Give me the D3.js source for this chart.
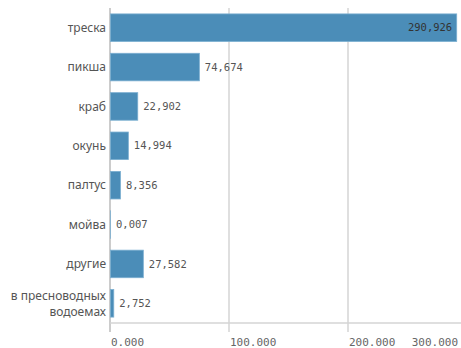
<!DOCTYPE html>
<html><head><meta charset="utf-8">
<script src="https://cdn.jsdelivr.net/npm/d3@7"></script>
<style>body{margin:0;background:#fff}svg{display:block}</style>
</head><body>
<script>
const categories = ["треска","пикша","краб","окунь","палтус","мойва","другие","в пресноводных водоемах"];
const values = [290.926, 74.674, 22.902, 14.994, 8.356, 0.007, 27.582, 2.752];
const ticks = [0, 100, 200, 300];

const W = 461, H = 348;
const svg = d3.select("body").append("svg").attr("width", W).attr("height", H);
const x = d3.scaleLinear().domain([0, 300]).range([110, 467]);
const y = d3.scaleBand().domain(categories).range([8, 323]).paddingInner(0.3).paddingOuter(0.15);

// grid
const grid = svg.append("g");
grid.selectAll("line").data(ticks).join("line")
  .attr("x1", d => x(d)).attr("x2", d => x(d))
  .attr("y1", 8).attr("y2", 332)
  .attr("stroke", d => d === 0 ? "#bbb" : "#d4d4d4").attr("stroke-width", 1.5);
svg.append("line").attr("x1", 110).attr("x2", W).attr("y1", 323).attr("y2", 323)
  .attr("stroke", "#d4d4d4").attr("stroke-width", 1.5);

// tick labels
svg.append("g").selectAll("text").data(ticks).join("text")
  .attr("x", d => Math.min(x(d) + 1, W - 3))
  .attr("y", 346)
  .attr("text-anchor", d => x(d) + 50 > W ? "end" : "start")
  .attr("font-family", "DejaVu Sans Mono, monospace").attr("font-size", 11)
  .attr("fill", "#666")
  .text(d => d3.format(".3f")(d));

// bars
svg.append("g").selectAll("rect").data(values).join("rect")
  .attr("x", x(0) + 0.5).attr("y", (d, i) => y(categories[i]))
  .attr("width", d => Math.max(0, x(d) - x(0)))
  .attr("height", y.bandwidth())
  .attr("fill", "#4b8db8").attr("stroke", "#7aaed0").attr("stroke-width", 0.8);

// value labels
const fmt = d => d3.format(".3f")(d).replace(".", ",");
svg.append("g").selectAll("text").data(values).join("text")
  .attr("x", d => x(d) > 400 ? x(d) - 4 : x(d) + 6)
  .attr("y", (d, i) => y(categories[i]) + y.bandwidth() / 2)
  .attr("dy", "0.35em")
  .attr("text-anchor", d => x(d) > 400 ? "end" : "start")
  .attr("font-family", "DejaVu Sans Mono, monospace").attr("font-size", 10.5)
  .attr("fill", d => x(d) > 400 ? "#333" : "#555")
  .text(fmt);

// category labels
const cat = svg.append("g").selectAll("text").data(categories).join("text")
  .attr("x", 106)
  .attr("y", d => y(d) + y.bandwidth() / 2)
  .attr("text-anchor", "end")
  .attr("font-family", "Noto Sans, sans-serif").attr("font-size", 12)
  .attr("fill", "#555");
cat.each(function(d) {
  const t = d3.select(this);
  if (d === "в пресноводных водоемах") {
    t.append("tspan").attr("x", 106).attr("dy", "-0.3em").text("в пресноводных");
    t.append("tspan").attr("x", 106).attr("dy", "1.35em").text("водоемах");
  } else {
    t.attr("dy", "0.35em").text(d);
  }
});
</script>
</body></html>
